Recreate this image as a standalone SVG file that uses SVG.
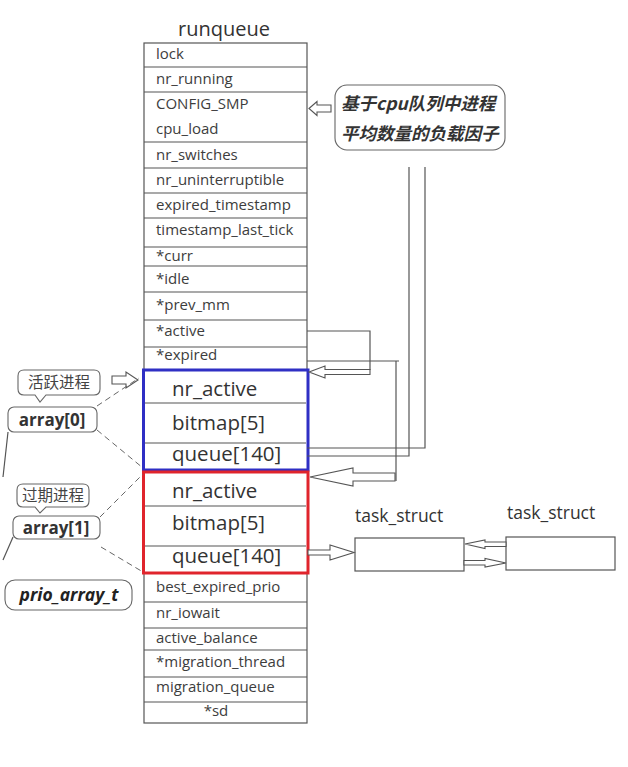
<svg xmlns="http://www.w3.org/2000/svg" width="628" height="767" viewBox="0 0 628 767">
<style>
.bg{fill:#ffffff}
.ln{stroke:#555;stroke-width:1.2;fill:none}
.cell{fill:#fff;stroke:#555;stroke-width:1.2}
.t{font-family:"Open Sans","DejaVu Sans",sans-serif;font-size:15px;fill:#3d3d3d}
.big{font-family:"Open Sans","DejaVu Sans",sans-serif;font-size:20.5px;fill:#333}
.title{font-family:"Open Sans","DejaVu Sans",sans-serif;font-size:20px;fill:#333}
.ha{fill:#fff;stroke:#555;stroke-width:1.1;stroke-linejoin:miter}
.dash{stroke:#666;stroke-width:1;stroke-dasharray:6 4;fill:none}
.bub{fill:#fff;stroke:#666;stroke-width:1.1}
.cn{font-family:"Noto Sans CJK SC",sans-serif;font-size:15.5px;fill:#444}
.lbl{font-family:"Open Sans","DejaVu Sans",sans-serif;font-size:17px;font-weight:bold;fill:#333}
.note{font-family:"Noto Sans CJK SC",sans-serif;font-size:17.5px;font-weight:bold;font-style:italic;fill:#333}
</style>
<rect class="bg" x="0" y="0" width="628" height="767"/>

<g id="runqueue">
  <text class="title" x="224" y="36" text-anchor="middle">runqueue</text>
  <rect class="cell" x="144" y="43" width="163" height="327"/>
  <rect class="cell" x="144" y="573" width="163" height="150"/>
  <g class="ln">
    <line x1="144" y1="67" x2="307" y2="67"/>
    <line x1="144" y1="92" x2="307" y2="92"/>
    <line x1="144" y1="142" x2="307" y2="142"/>
    <line x1="144" y1="168" x2="307" y2="168"/>
    <line x1="144" y1="193" x2="307" y2="193"/>
    <line x1="144" y1="218" x2="307" y2="218"/>
    <line x1="144" y1="247" x2="307" y2="247"/>
    <line x1="144" y1="266" x2="307" y2="266"/>
    <line x1="144" y1="292" x2="307" y2="292"/>
    <line x1="144" y1="320" x2="307" y2="320"/>
    <line x1="144" y1="347" x2="307" y2="347"/>
    <line x1="144" y1="602" x2="307" y2="602"/>
    <line x1="144" y1="628" x2="307" y2="628"/>
    <line x1="144" y1="650" x2="307" y2="650"/>
    <line x1="144" y1="677" x2="307" y2="677"/>
    <line x1="144" y1="702" x2="307" y2="702"/>
  </g>
  <text class="t" x="156" y="59">lock</text>
  <text class="t" x="156" y="84">nr_running</text>
  <text class="t" x="156" y="109">CONFIG_SMP</text>
  <text class="t" x="156" y="134">cpu_load</text>
  <text class="t" x="156" y="160">nr_switches</text>
  <text class="t" x="156" y="185">nr_uninterruptible</text>
  <text class="t" x="156" y="210">expired_timestamp</text>
  <text class="t" x="156" y="235">timestamp_last_tick</text>
  <text class="t" x="156" y="261">*curr</text>
  <text class="t" x="156" y="284">*idle</text>
  <text class="t" x="156" y="310">*prev_mm</text>
  <text class="t" x="156" y="336">*active</text>
  <text class="t" x="156" y="360">*expired</text>
  <text class="t" x="156" y="592">best_expired_prio</text>
  <text class="t" x="156" y="618">nr_iowait</text>
  <text class="t" x="156" y="643">active_balance</text>
  <text class="t" x="156" y="667">*migration_thread</text>
  <text class="t" x="156" y="692">migration_queue</text>
  <text class="t" x="216" y="716" text-anchor="middle">*sd</text>
</g>

<g id="array0">
  <rect x="143.5" y="370" width="164.5" height="100" fill="#fff" stroke="#2f2fc4" stroke-width="3"/>
  <line class="ln" x1="145" y1="403" x2="306" y2="403"/>
  <line class="ln" x1="145" y1="443" x2="306" y2="443"/>
  <text class="big" x="172" y="396">nr_active</text>
  <text class="big" x="172" y="430">bitmap[5]</text>
  <text class="big" x="172" y="461">queue[140]</text>
</g>

<g id="array1">
  <rect x="143.5" y="472" width="164.5" height="101" fill="#fff" stroke="#e0242c" stroke-width="3"/>
  <line class="ln" x1="145" y1="506" x2="306" y2="506"/>
  <line class="ln" x1="145" y1="546" x2="306" y2="546"/>
  <text class="big" x="172" y="498">nr_active</text>
  <text class="big" x="172" y="530">bitmap[5]</text>
  <text class="big" x="172" y="563">queue[140]</text>
</g>

<g id="load-note">
  <rect class="bub" x="335" y="85" width="170" height="65" rx="12"/>
  <text class="note" x="341" y="110">基于cpu队列中进程</text>
  <text class="note" x="341" y="140">平均数量的负载因子</text>
</g>

<g id="task1">
  <text x="355" y="522" font-family="'Open Sans','DejaVu Sans',sans-serif" font-size="17.5" fill="#333">task_struct</text>
  <rect class="cell" x="355" y="538" width="109" height="33"/>
</g>
<g id="task2">
  <text x="507" y="519" font-family="'Open Sans','DejaVu Sans',sans-serif" font-size="17.5" fill="#333">task_struct</text>
  <rect class="cell" x="506" y="537" width="109" height="33"/>
</g>

<g id="label-active">
  <path class="bub" d="M24,370 H94 Q100,370 100,376 V389 Q100,395 94,395 H46 L40,402 L35,395 H24 Q18,395 18,389 V376 Q18,370 24,370 Z"/>
  <text class="cn" x="59" y="388" text-anchor="middle">活跃进程</text>
</g>
<g id="label-array0">
  <rect class="bub" x="8" y="407" width="89" height="25" rx="6"/>
  <text class="lbl" x="52" y="426" text-anchor="middle">array[0]</text>
</g>
<g id="label-expired">
  <path class="bub" d="M23,484 H83 Q89,484 89,490 V501 Q89,507 83,507 H46 L40,513 L35,507 H23 Q17,507 17,501 V490 Q17,484 23,484 Z"/>
  <text class="cn" x="53" y="501" text-anchor="middle">过期进程</text>
</g>
<g id="label-array1">
  <rect class="bub" x="13" y="516" width="87" height="23" rx="6"/>
  <text class="lbl" x="56" y="534" text-anchor="middle">array[1]</text>
</g>
<g id="label-prio">
  <rect class="bub" x="5" y="580" width="127" height="30" rx="10"/>
  <text x="69" y="601" text-anchor="middle" font-family="'Open Sans','DejaVu Sans',sans-serif" font-size="17.5" font-weight="bold" font-style="italic" fill="#222">prio_array_t</text>
</g>

<g id="connectors">
  <polygon class="ha" points="309,108.5 317,101.5 317,105 331,105 331,112 317,112 317,115.5"/>
  <polyline class="ln" points="409,167 409,456 307,456"/>
  <polyline class="ln" points="425,167 425,448 307,448"/>
  <polyline class="ln" points="307,331 370,331 370,370"/>
  <polygon class="ha" points="309,372 325,366 325,369.5 370,369.5 370,374.5 325,374.5 325,378"/>
  <polyline class="ln" points="307,361 399,361"/>
  <line class="ln" x1="396" y1="361" x2="396" y2="481"/>
  <polygon class="ha" points="310,477 353,468 353,473 395,473 395,481 353,481 353,486"/>
  <polygon class="ha" points="308,550 330,550 330,545 354,552.5 330,560 330,555 308,555"/>
  <polygon class="ha" points="465,544 485,540 485,542 506,542 506,546.5 485,546.5 485,548.5"/>
  <polygon class="ha" points="464,560.5 485,560.5 485,558.5 506,563 485,567 485,565 464,565"/>
  <polygon class="ha" points="112,376 126,376 126,372 138,380 126,388 126,384 112,384"/>
  <line class="dash" x1="97" y1="406" x2="139" y2="378"/>
  <line class="dash" x1="97" y1="430" x2="143" y2="468"/>
  <line class="dash" x1="100" y1="517" x2="143" y2="474"/>
  <line class="dash" x1="101" y1="547" x2="143" y2="572"/>
  <line class="ln" x1="8" y1="432" x2="3" y2="477"/>
  <line class="ln" x1="13" y1="537" x2="3" y2="560"/>
</g>
</svg>
